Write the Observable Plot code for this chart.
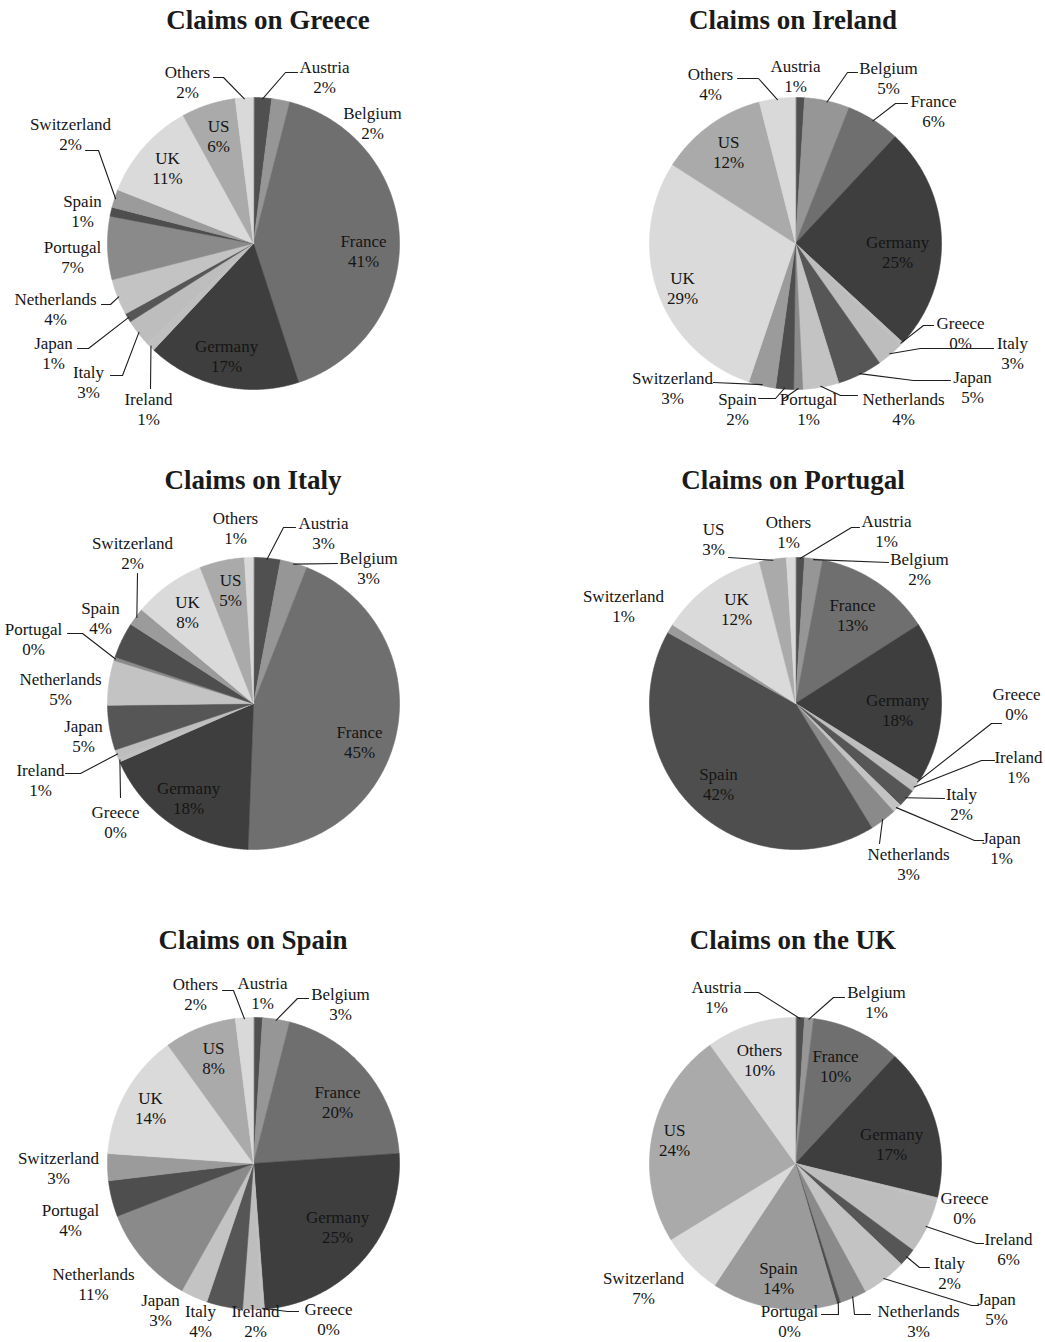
<!DOCTYPE html>
<html><head><meta charset="utf-8">
<script src="https://cdn.jsdelivr.net/npm/d3@7"></script>
<script src="https://cdn.jsdelivr.net/npm/@observablehq/plot@0.6"></script>
<style>
html,body{margin:0;padding:0;background:#fff;overflow:hidden;}
#page{position:relative;width:1045px;height:1342px;overflow:hidden;}
.title{position:absolute;font-family:"Liberation Serif","Times New Roman",serif;font-weight:bold;font-size:27px;line-height:27px;color:#1a1a1a;white-space:nowrap;transform:translateX(-50%);}
.cell{position:absolute;}
</style></head><body><div id="page"></div>
<script>
// ---- data (percent shares, clockwise from 12 o'clock) ----
const lendersGreece = ["Austria","Belgium","France","Germany","Ireland","Italy","Japan","Netherlands","Portugal","Spain","Switzerland","UK","US","Others"];
const sharesGreece  = [2,2,41,17,1,3,1,4,7,1,2,11,6,2];

const lendersIreland = ["Austria","Belgium","France","Germany","Greece","Italy","Japan","Netherlands","Portugal","Spain","Switzerland","UK","US","Others"];
const sharesIreland  = [1,5,6,25,0.4,3,5,4,1,2,3,29,12,4];

const lendersItaly = ["Austria","Belgium","France","Germany","Greece","Ireland","Japan","Netherlands","Portugal","Spain","Switzerland","UK","US","Others"];
const sharesItaly  = [3,3,45,18,0.4,1,5,5,0.4,4,2,8,5,1];

const lendersPortugal = ["Austria","Belgium","France","Germany","Greece","Ireland","Italy","Japan","Netherlands","Spain","Switzerland","UK","US","Others"];
const sharesPortugal  = [1,2,13,18,0.4,1,2,1,3,42,1,12,3,1];

const lendersSpain = ["Austria","Belgium","France","Germany","Greece","Ireland","Italy","Japan","Netherlands","Portugal","Switzerland","UK","US","Others"];
const sharesSpain  = [1,3,20,25,0.4,2,4,3,11,4,3,14,8,2];

const lendersUK = ["Austria","Belgium","France","Germany","Greece","Ireland","Italy","Japan","Netherlands","Portugal","Spain","Switzerland","US","Others"];
const sharesUK  = [1,1,10,17,0.4,6,2,5,3,0.4,14,7,24,10];

// ---- styles ----
const sliceGrays = ["#505050","#969696","#6f6f6f","#3e3e3e","#c0c0c0","#bdbdbd","#565656","#c3c3c3","#8a8a8a","#4e4e4e","#9b9b9b","#dadada","#aaaaaa","#d9d9d9"];

// label placement (pixel offsets from pie centre): at = label centre, end = leader elbow, tail = x of horizontal tail
const layoutGreece = {
  Austria:{at:[71,-167],end:[32,-171],tail:44}, Belgium:{at:[119,-121]}, France:{at:[110,7]}, Germany:{at:[-27,112]},
  Ireland:{at:[-105,165],end:[-103,145]}, Italy:{at:[-165,138],end:[-131,132],tail:-143}, Japan:{at:[-200,109],end:[-165,105],tail:-176},
  Netherlands:{at:[-198,65],end:[-143,61],tail:-152}, Portugal:{at:[-181,13]}, Spain:{at:[-171,-33]},
  Switzerland:{at:[-183,-110],end:[-155,-93],tail:-168}, UK:{at:[-86,-76]}, US:{at:[-35,-108]}, Others:{at:[-66,-162],end:[-30,-166],tail:-40}
};
const layoutIreland = {
  Austria:{at:[0,-168]}, Belgium:{at:[93,-166],end:[52,-171],tail:62}, France:{at:[138,-133],end:[100,-140],tail:112}, Germany:{at:[102,8]},
  Greece:{at:[165,89],end:[128,82],tail:138}, Italy:{at:[217,109],end:[125,105],tail:198}, Japan:{at:[177,143],end:[118,137],tail:155},
  Netherlands:{at:[108,165],end:[45,152],tail:62}, Portugal:{at:[13,165],end:[-13,156]}, Spain:{at:[-58,165],end:[-20,155],tail:-37},
  Switzerland:{at:[-123,144],end:[-82,139]}, UK:{at:[-113,44]}, US:{at:[-67,-92]}, Others:{at:[-85,-160],end:[-37,-165],tail:-58}
};
const layoutItaly = {
  Austria:{at:[70,-171],end:[30,-176],tail:42}, Belgium:{at:[115,-136],end:[84,-140]}, France:{at:[106,38]}, Germany:{at:[-65,94]},
  Greece:{at:[-138,118],end:[-133,94]}, Ireland:{at:[-213,76],end:[-173,70],tail:-188}, Japan:{at:[-170,32]}, Netherlands:{at:[-193,-15]},
  Portugal:{at:[-220,-65],end:[-171,-70],tail:-186}, Spain:{at:[-153,-86]}, Switzerland:{at:[-121,-151],end:[-116,-130]},
  UK:{at:[-66,-92]}, US:{at:[-23,-114]}, Others:{at:[-18,-176]}
};
const layoutPortugal = {
  Austria:{at:[91,-173],end:[56,-176],tail:64}, Belgium:{at:[124,-135],end:[93,-141]}, France:{at:[57,-89]}, Germany:{at:[102,6]},
  Greece:{at:[221,0],end:[196,20],tail:206}, Ireland:{at:[223,63],end:[186,57],tail:199}, Italy:{at:[166,100],end:[149,95]},
  Japan:{at:[206,144],end:[179,137],tail:188}, Netherlands:{at:[113,160],end:[84,140]}, Spain:{at:[-77,80]},
  Switzerland:{at:[-172,-98]}, UK:{at:[-59,-95]}, US:{at:[-82,-165],end:[-67,-146]}, Others:{at:[-7,-172]}
};
const layoutSpain = {
  Austria:{at:[9,-171]}, Belgium:{at:[87,-160],end:[44,-165],tail:55}, France:{at:[84,-62]}, Germany:{at:[84,63]},
  Greece:{at:[75,155],end:[34,148],tail:45}, Ireland:{at:[2,157]}, Italy:{at:[-53,157]}, Japan:{at:[-93,146]},
  Netherlands:{at:[-160,120]}, Portugal:{at:[-183,56]}, Switzerland:{at:[-195,4]}, UK:{at:[-103,-56]}, US:{at:[-40,-106]},
  Others:{at:[-58,-170],end:[-20,-173],tail:-31}
};
const layoutUK = {
  Austria:{at:[-79,-167],end:[-37,-171],tail:-51}, Belgium:{at:[81,-162],end:[38,-166],tail:49}, France:{at:[40,-98]}, Germany:{at:[96,-20]},
  Greece:{at:[169,44]}, Ireland:{at:[213,85],end:[181,80],tail:188}, Italy:{at:[154,109],end:[124,104],tail:134},
  Japan:{at:[201,145],end:[176,142],tail:183}, Netherlands:{at:[123,157],end:[59,151],tail:75}, Portugal:{at:[-6,157],end:[43,151],tail:26},
  Spain:{at:[-17,114]}, Switzerland:{at:[-152,124]}, US:{at:[-121,-24]}, Others:{at:[-36,-104]}
};

const charts = [
  {title:"Claims on Greece",   lenders:lendersGreece,   shares:sharesGreece,   layout:layoutGreece,   col:0,row:0, titleX:268},
  {title:"Claims on Ireland",  lenders:lendersIreland,  shares:sharesIreland,  layout:layoutIreland,  col:1,row:0, titleX:793},
  {title:"Claims on Italy",    lenders:lendersItaly,    shares:sharesItaly,    layout:layoutItaly,    col:0,row:1, titleX:253},
  {title:"Claims on Portugal", lenders:lendersPortugal, shares:sharesPortugal, layout:layoutPortugal, col:1,row:1, titleX:793},
  {title:"Claims on Spain",    lenders:lendersSpain,    shares:sharesSpain,    layout:layoutSpain,    col:0,row:2, titleX:253},
  {title:"Claims on the UK",   lenders:lendersUK,       shares:sharesUK,       layout:layoutUK,       col:1,row:2, titleX:793}
];

const W = 522, H = 380, R = 146, CY = 201;
const rowTop = [0, 460, 920];
const page = document.getElementById("page");
const fmt = d3.format(".0f");

for (const c of charts) {
  const cx = c.col === 0 ? 253 : 273;
  const rows = c.lenders.map((name, i) => ({name, share: c.shares[i], color: sliceGrays[i]}));
  const arcs = d3.pie().sort(null).value(d => d.share)(rows);

  const marks = [];
  for (const a of arcs) {
    const pts = [{x: 0, y: 0}];
    const n = Math.max(2, Math.ceil((a.endAngle - a.startAngle) / 0.01));
    for (let k = 0; k <= n; k++) {
      const t = a.startAngle + (a.endAngle - a.startAngle) * k / n;
      pts.push({x: R * Math.sin(t), y: -R * Math.cos(t)});
    }
    marks.push(Plot.line(pts, {x: "x", y: "y", fill: a.data.color, stroke: a.data.color, strokeWidth: 0.6, curve: "linear-closed"}));
  }

  const leaders = [];
  const labels = [];
  for (const a of arcs) {
    const L = c.layout[a.data.name];
    if (!L) continue;
    labels.push({x: L.at[0], y: L.at[1], text: `${a.data.name}\n${fmt(a.data.share)}%`});
    if (L.end) {
      const mid = (a.startAngle + a.endAngle) / 2;
      const key = a.data.name;
      leaders.push({key, x: (R - 1) * Math.sin(mid), y: -(R - 1) * Math.cos(mid)});
      leaders.push({key, x: L.end[0], y: L.end[1]});
      if (L.tail !== undefined) leaders.push({key, x: L.tail, y: L.end[1]});
    }
  }
  marks.push(Plot.line(leaders, {x: "x", y: "y", z: "key", stroke: "#1e1e1e", strokeWidth: 1.1}));
  marks.push(Plot.text(labels, {x: "x", y: "y", text: "text", fontSize: 17, lineHeight: 1.18, fontFamily: "Liberation Serif, Times New Roman, serif", fill: "#151515"}));

  const svg = Plot.plot({
    width: W, height: H, margin: 0,
    x: {domain: [-cx, W - cx], range: [0, W], axis: null},
    y: {domain: [-CY, H - CY], range: [0, H], axis: null},
    style: {background: "transparent", overflow: "visible"},
    marks
  });
  const cell = document.createElement("div");
  cell.className = "cell";
  cell.style.left = (c.col * W) + "px";
  cell.style.top = (rowTop[c.row] + 42) + "px";
  cell.appendChild(svg);
  page.appendChild(cell);

  const t = document.createElement("div");
  t.className = "title";
  t.textContent = c.title;
  t.style.left = c.titleX + "px";
  t.style.top = (rowTop[c.row] + 7) + "px";
  page.appendChild(t);
}
</script></body></html>
